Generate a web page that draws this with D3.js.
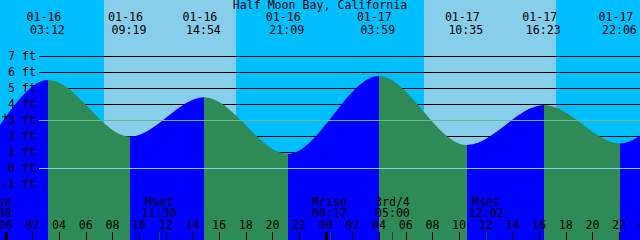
<!doctype html>
<html lang="en">
<head>
    <meta charset="utf-8"/>
    <title>Half Moon Bay, California</title>
    <style>
        body { margin: 0; background: #fff; }
        svg { display: block; }
        text { font-family: "DejaVu Sans Mono", monospace; font-size: 11.6px; fill: #000; }
    </style>
    <script src="https://d3js.org/d3.v7.min.js"></script>
</head>
<body>
<svg width="640" height="240"></svg>
<script>

    // tide events (dates, clock times, heights in ft)
    var tideDates = ["01-16", "01-16", "01-16", "01-16", "01-17", "01-17", "01-17", "01-17"];
    var tideTimes = ["03:12", "09:19", "14:54", "21:09", "03:59", "10:35", "16:23", "22:06"];
    var tideFeet  = [5.5, 1.96, 4.42, 0.88, 5.75, 1.44, 3.94, 1.54];

    // water level where the window cuts the curve
    var edgeFeet = [2.69, 2.0];

    // moon events along the bottom
    var moonNames = ["Mrise", "Mset", "Mrise", "3rd/4", "Mset"];
    var moonDates = ["01-15", "01-16", "01-17", "01-17", "01-17"];
    var moonTimes = ["23:08", "11:30", "00:17", "05:00", "12:02"];

    // daylight
    var sunDates = ["01-16", "01-17"];
    var sunrise  = ["07:22", "07:22"];
    var sunset   = ["17:16", "17:16"];

    var feetTicks = [7, 6, 5, 4, 3, 2, 1, 0, -1];
    var markFeet = 3;

    var svg = d3.select("svg"),
        width = +svg.attr("width"),
        height = +svg.attr("height");

    // hours counted from 01-16 00:00
    function hoursOf(date, time) {
        var day = +date.split("-")[1] - 16;
        var p = time.split(":");
        return day * 24 + (+p[0]) + (+p[1]) / 60;
    }

    var start = -0.43, end = start + 48;
    var x = d3.scaleLinear().domain([start, end]).range([0, width]);
    var y = d3.scaleLinear().domain([-1, 7]).range([184, 56]);

    var pts = [{h: start, ft: edgeFeet[0]}];
    tideTimes.forEach(function(t, i) {
        pts.push({h: hoursOf(tideDates[i], t), ft: tideFeet[i]});
    });
    pts.push({h: end, ft: edgeFeet[1]});

    // sky
    svg.append("rect")
       .attr("width", width).attr("height", height)
       .attr("fill", "#00bfff");

    svg.selectAll(".day")
       .data(sunDates)
       .enter().append("rect")
       .attr("class", "day")
       .attr("x", function(d, i) { return x(hoursOf(d, sunrise[i])); })
       .attr("width", function(d, i) { return x(hoursOf(d, sunset[i])) - x(hoursOf(d, sunrise[i])); })
       .attr("y", 0)
       .attr("height", height)
       .attr("fill", "#87ceeb");

    // grid behind the water
    svg.selectAll(".grid")
       .data(feetTicks)
       .enter().append("line")
       .attr("x1", 39).attr("x2", width)
       .attr("y1", function(d) { return y(d) + 0.5; })
       .attr("y2", function(d) { return y(d) + 0.5; })
       .attr("stroke", "#000")
       .attr("shape-rendering", "crispEdges");

    // water, blue while rising and green while falling
    var area = d3.area()
        .x(function(d) { return x(d.h); })
        .y0(height)
        .y1(function(d) { return y(d.ft); })
        .curve(d3.curveMonotoneX);

    var defs = svg.append("defs");
    for (var i = 0; i < pts.length - 1; i++) {
        defs.append("clipPath").attr("id", "seg" + i)
            .append("rect")
            .attr("x", Math.round(x(pts[i].h)))
            .attr("width", Math.round(x(pts[i + 1].h)) - Math.round(x(pts[i].h)))
            .attr("y", 0).attr("height", height);
        svg.append("path")
           .datum(pts)
           .attr("clip-path", "url(#seg" + i + ")")
           .attr("fill", pts[i + 1].ft > pts[i].ft ? "#0000ff" : "#2e8b57")
           .attr("d", area);
    }

    // mark and datum lines on top
    svg.append("line")
       .attr("x1", 39).attr("x2", width)
       .attr("y1", y(markFeet) + 0.5).attr("y2", y(markFeet) + 0.5)
       .attr("stroke", "#66bb88")
       .attr("shape-rendering", "crispEdges");
    svg.append("line")
       .attr("x1", 39).attr("x2", width)
       .attr("y1", y(0) + 0.5).attr("y2", y(0) + 0.5)
       .attr("stroke", "#87cefa")
       .attr("shape-rendering", "crispEdges");

    // feet labels
    svg.selectAll(".ft")
       .data(feetTicks)
       .enter().append("text")
       .attr("x", 36)
       .attr("y", function(d) { return y(d) + 4; })
       .attr("text-anchor", "end")
       .text(function(d) { return d + " ft"; });

    svg.append("text")
       .attr("x", 5).attr("y", y(markFeet) + 1)
       .attr("text-anchor", "middle")
       .text("+");

    // title
    svg.append("text")
       .attr("x", width / 2).attr("y", 9)
       .attr("text-anchor", "middle")
       .text("Half Moon Bay, California");

    // tide event labels
    var ev = svg.selectAll(".ev")
       .data(tideTimes)
       .enter().append("g");
    ev.append("text")
      .attr("x", function(d, i) { return x(hoursOf(tideDates[i], d)) - 4.5; })
      .attr("y", 21)
      .attr("text-anchor", "middle")
      .text(function(d, i) { return tideDates[i]; });
    ev.append("text")
      .attr("x", function(d, i) { return x(hoursOf(tideDates[i], d)) - 1; })
      .attr("y", 34)
      .attr("text-anchor", "middle")
      .text(function(d) { return d; });

    // hour axis
    var hours = d3.range(0, 50, 2);
    svg.selectAll(".tick")
       .data(hours)
       .enter().append("rect")
       .attr("x", function(d) { return Math.round(x(d)) - (d % 24 === 0 ? 1 : 0); })
       .attr("width", function(d) { return d % 24 === 0 ? 3 : 1; })
       .attr("y", 232)
       .attr("height", 8)
       .attr("fill", "#000");
    svg.selectAll(".hl")
       .data(hours)
       .enter().append("text")
       .attr("x", function(d) { return x(d); })
       .attr("y", 229)
       .attr("text-anchor", "middle")
       .text(function(d) { return d3.format("02")(d % 24); });

    // moon events
    svg.selectAll(".mt")
       .data(moonTimes)
       .enter().append("rect")
       .attr("x", function(d, i) { return Math.round(x(hoursOf(moonDates[i], d))); })
       .attr("width", 1)
       .attr("y", 232)
       .attr("height", 8)
       .attr("fill", "#334433");
    var mv = svg.selectAll(".mv")
       .data(moonTimes)
       .enter().append("g");
    mv.append("text")
      .attr("x", function(d, i) { return x(hoursOf(moonDates[i], d)); })
      .attr("y", 206)
      .attr("text-anchor", "middle")
      .text(function(d, i) { return moonNames[i]; });
    mv.append("text")
      .attr("x", function(d, i) { return x(hoursOf(moonDates[i], d)); })
      .attr("y", 217)
      .attr("text-anchor", "middle")
      .text(function(d) { return d; });

</script>
</body>
</html>
